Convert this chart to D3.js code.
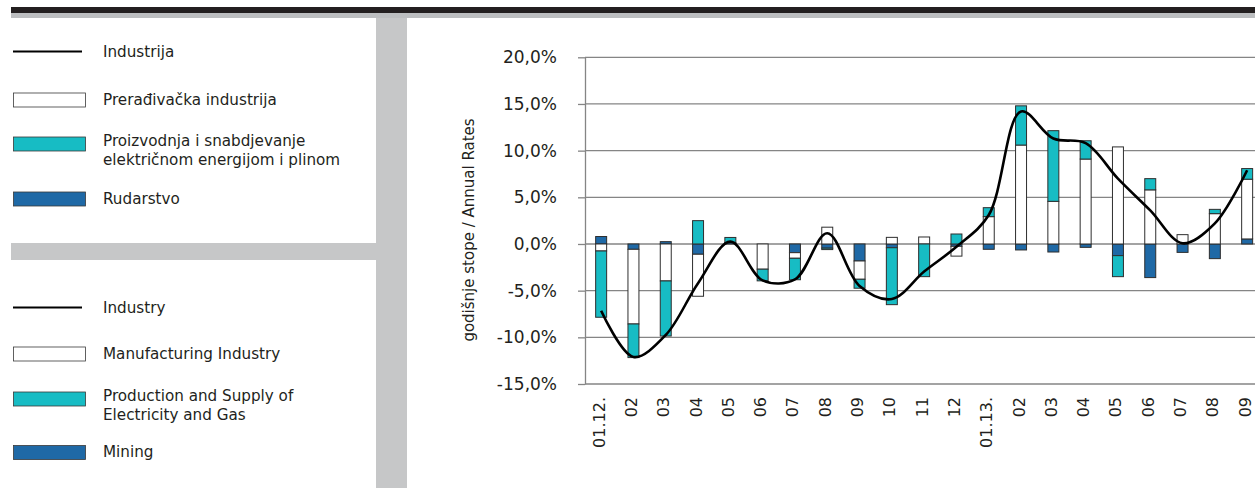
<!DOCTYPE html>
<html>
<head>
<meta charset="utf-8">
<script src="https://d3js.org/d3.v7.min.js"></script>
<style>
    body { margin: 0; background: #fff; }
    text { font-family: "DejaVu Sans", sans-serif; fill: #231f20; }
</style>
</head>
<body>
<svg width="1255" height="488"></svg>
<script>
// categories (months 2012-2013)
const months = ['01.12.', '02', '03', '04', '05', '06', '07', '08', '09', '10', '11', '12',
                '01.13.', '02', '03', '04', '05', '06', '07', '08', '09'];

// contributions, % annual rates
const mining        = [0.8, -0.57, 0.25, -1.1, 0.15, 0, -0.93, -0.45, -1.82, -0.4, 0, -0.25,
                       -0.57, -0.64, -0.86, -0.36, -1.25, -3.6, -0.9, -1.57, 0.54];
const manufacturing = [-0.75, -8.0, -3.96, -4.5, 0, -2.7, -0.6, 1.8, -1.96, 0.71, 0.75, -1.05,
                       2.93, 10.6, 4.57, 9.1, 10.4, 5.8, 1.0, 3.25, 6.4];
const electricity   = [-7.1, -3.6, -5.9, 2.5, 0.55, -1.25, -2.3, -0.15, -0.96, -6.1, -3.5, 1.07,
                       0.96, 4.2, 7.57, 1.96, -2.25, 1.2, 0, 0.46, 1.14];
const industry      = [-7.15, -12.1, -9.75, -4.2, 0.25, -3.9, -3.8, 1.15, -4.5, -5.9, -2.95, -0.3,
                       3.1, 14.2, 11.3, 10.8, 7.0, 3.6, 0.07, 2.2, 7.9];

const yTicks = [-15, -10, -5, 0, 5, 10, 15, 20];

const colors = { mining: '#1f69a6', manufacturing: '#ffffff', electricity: '#17bcc4' };

const svg = d3.select('svg');

// page furniture
svg.append('rect').attr('x', 11).attr('y', 7).attr('width', 1244).attr('height', 6).attr('fill', '#231f20');
svg.append('rect').attr('x', 11).attr('y', 13).attr('width', 1244).attr('height', 5).attr('fill', '#bcbec0');
svg.append('rect').attr('x', 376).attr('y', 18).attr('width', 31).attr('height', 470).attr('fill', '#c6c7c8');
svg.append('rect').attr('x', 11).attr('y', 243).attr('width', 365).attr('height', 17).attr('fill', '#c6c7c8');

// legends
const legendHr = [
    { type: 'line', y: 51.5, text: ['Industrija'] },
    { type: 'manufacturing', y: 93, text: ['Prerađivačka industrija'] },
    { type: 'electricity', y: 137, text: ['Proizvodnja i snabdjevanje', 'električnom energijom i plinom'] },
    { type: 'mining', y: 192, text: ['Rudarstvo'] }
];
const legendEn = [
    { type: 'line', y: 307.5, text: ['Industry'] },
    { type: 'manufacturing', y: 347, text: ['Manufacturing Industry'] },
    { type: 'electricity', y: 392, text: ['Production and Supply of', 'Electricity and Gas'] },
    { type: 'mining', y: 445.5, text: ['Mining'] }
];

function drawLegend(items) {
    items.forEach(function (d) {
        if (d.type === 'line') {
            svg.append('line').attr('x1', 13).attr('x2', 82).attr('y1', d.y).attr('y2', d.y)
                .attr('stroke', '#000').attr('stroke-width', 2.2);
            svg.append('text').attr('x', 103).attr('y', d.y + 5).attr('font-size', 15.2).text(d.text[0]);
        } else {
            svg.append('rect').attr('x', 13.5).attr('y', d.y).attr('width', 72).attr('height', 14)
                .attr('fill', colors[d.type]).attr('stroke', '#3a3a3a').attr('stroke-width', 0.8);
            d.text.forEach(function (t, i) {
                svg.append('text').attr('x', 103).attr('y', d.y + (d.text.length > 1 ? 8.5 : 11.5) + i * 19)
                    .attr('font-size', 15.2).text(t);
            });
        }
    });
}
drawLegend(legendHr);
drawLegend(legendEn);

// scales
const x = d3.scaleBand().domain(d3.range(months.length))
    .range([585, 585 + months.length * 32.3]).paddingInner(0.66).paddingOuter(0.33);
const y = d3.scaleLinear().domain([-15, 20]).range([384, 57.3]);

// gridlines
svg.append('g').selectAll('line').data(yTicks).enter().append('line')
    .attr('x1', 585).attr('x2', 1255)
    .attr('y1', d => y(d)).attr('y2', d => y(d))
    .attr('stroke', '#858585').attr('stroke-width', 1.3);

// y axis
const yAxis = d3.axisLeft(y).tickValues(yTicks).tickSize(7).tickSizeOuter(0).tickPadding(21)
    .tickFormat(d => d.toFixed(1).replace('.', ',') + '%');
const gy = svg.append('g').attr('transform', 'translate(585,0)').call(yAxis);
gy.select('.domain').attr('stroke', '#858585').attr('stroke-width', 1.3);
gy.selectAll('.tick line').attr('stroke', '#858585').attr('stroke-width', 1.3);
gy.selectAll('.tick text').attr('font-size', 17).attr('font-family', '"DejaVu Sans", sans-serif').attr('fill', '#231f20');

svg.append('text')
    .attr('transform', 'translate(474,' + 230 + ') rotate(-90)')
    .attr('text-anchor', 'middle').attr('font-size', 15)
    .text('godišnje stope / Annual Rates');

// x labels
svg.append('g').selectAll('text').data(months).enter().append('text')
    .attr('transform', (d, i) => 'translate(' + (x(i) + x.bandwidth() / 2 + 3.5) + ',397) rotate(-90)')
    .attr('text-anchor', 'end').attr('font-size', 16)
    .text(d => d);

// stacked bars
const table = months.map((m, i) => ({ mining: mining[i], manufacturing: manufacturing[i], electricity: electricity[i] }));
const series = d3.stack().keys(['mining', 'manufacturing', 'electricity'])
    .offset(d3.stackOffsetDiverging)(table);

svg.append('g').selectAll('g').data(series).enter().append('g')
    .attr('fill', d => colors[d.key])
    .selectAll('rect').data(d => d.map((v, i) => ({ v: v, i: i }))).enter()
    .filter(d => Math.abs(d.v[1] - d.v[0]) > 0.001)
    .append('rect')
    .attr('x', d => x(d.i))
    .attr('width', x.bandwidth())
    .attr('y', d => y(Math.max(d.v[0], d.v[1])))
    .attr('height', d => Math.abs(y(d.v[0]) - y(d.v[1])))
    .attr('stroke', '#2e2e2e').attr('stroke-width', 1);

// industry line
const line = d3.line()
    .x((d, i) => x(i) + x.bandwidth() / 2)
    .y(d => y(d))
    .curve(d3.curveCatmullRom.alpha(0.5));
svg.append('path').datum(industry)
    .attr('d', line).attr('fill', 'none')
    .attr('stroke', '#000').attr('stroke-width', 2.6);
</script>
</body>
</html>
